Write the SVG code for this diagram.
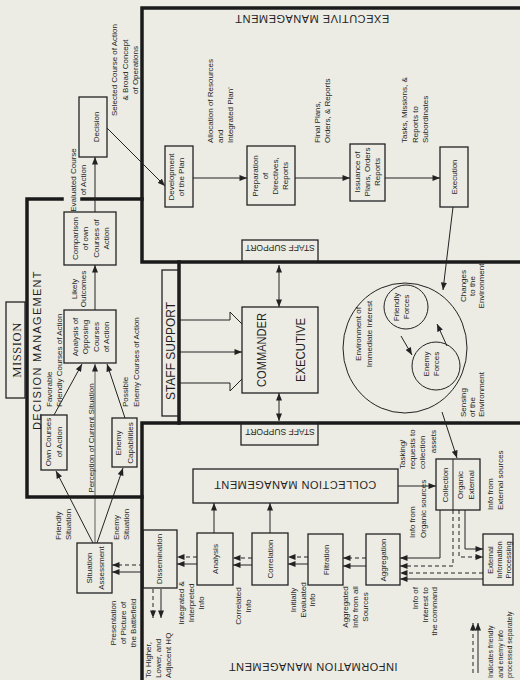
<svg xmlns="http://www.w3.org/2000/svg" width="520" height="680" viewBox="0 0 520 680">
<defs>
<marker id="ah" viewBox="0 0 10 8" refX="10" refY="4" markerWidth="8" markerHeight="6" markerUnits="userSpaceOnUse" orient="auto-start-reverse"><path d="M0,0 L10,4 L0,8 z" fill="#222"/></marker>
</defs>
<style>
text{font-family:"Liberation Sans",Arial,sans-serif;fill:#1f1f1f;font-size:8px}
.serif{font-family:"Liberation Serif","Times New Roman",serif}
.big{font-size:12px}
.head{font-size:11px;letter-spacing:0.5px}
.small{font-size:7px}
.box{fill:none;stroke:#222;stroke-width:1.3}
.wall{fill:none;stroke:#1a1a1a;stroke-width:3.5;stroke-linecap:square}
.ln{fill:none;stroke:#222;stroke-width:1}
.thin{stroke-width:0.7}
.arr{marker-end:url(#ah)}
.dbl{marker-start:url(#ah);marker-end:url(#ah)}
.dash{stroke-dasharray:4 3}
</style>
<rect width="520" height="680" fill="#ecece4"/>

<!-- management regions -->
<g id="executive-management">
<path class="wall" d="M520,8 H142 V262 H520"/>
<text class="head" transform="translate(312,15) rotate(180)" text-anchor="middle">EXECUTIVE MANAGEMENT</text>
</g>
<g id="decision-management">
<path class="wall" d="M62,199 H27 V497 H142"/>
<path class="wall" d="M82,199 H142"/>
<text class="head" transform="translate(41,350) rotate(-90)" text-anchor="middle" style="letter-spacing:1.3px">DECISION MANAGEMENT</text>
</g>
<g id="staff-support-wall">
<path class="wall" d="M179,262 V423"/>
</g>
<g id="information-management">
<path class="wall" d="M142,680 V423 H520"/>
<text class="head" transform="translate(313,663) rotate(180)" text-anchor="middle">INFORMATION MANAGEMENT</text>
</g>

<!-- nodes -->
<g id="mission">
<rect class="box" x="6" y="302" width="19" height="96"/>
<text class="serif" transform="translate(20.5,350) rotate(-90)" text-anchor="middle" style="font-size:12.5px;letter-spacing:0.6px">MISSION</text>
</g>
<g id="own-courses">
<rect class="box" x="41" y="415" width="26" height="55"/>
<text transform="translate(50.5,442) rotate(-90)" text-anchor="middle"><tspan x="0">Own Courses</tspan><tspan x="0" dy="11">of Action</tspan></text>
</g>
<g id="enemy-capabilities">
<rect class="box" x="112" y="418" width="25" height="49"/>
<text transform="translate(121,443) rotate(-90)" text-anchor="middle"><tspan x="0">Enemy</tspan><tspan x="0" dy="11.5">Capabilities</tspan></text>
</g>
<g id="analysis-opposing">
<rect class="box" x="64" y="310" width="52" height="53"/>
<text transform="translate(77.5,337) rotate(-90)" text-anchor="middle"><tspan x="0">Analysis of</tspan><tspan x="0" dy="10.5">Opposing</tspan><tspan x="0" dy="10.5">Courses</tspan><tspan x="0" dy="10.5">of Action</tspan></text>
</g>
<g id="comparison">
<rect class="box" x="64" y="212" width="52" height="53"/>
<text transform="translate(77.5,238.5) rotate(-90)" text-anchor="middle"><tspan x="0">Comparison</tspan><tspan x="0" dy="10.5">of own</tspan><tspan x="0" dy="10.5">Courses of</tspan><tspan x="0" dy="10.5">Action</tspan></text>
</g>
<g id="decision">
<rect class="box" x="79" y="97" width="28" height="60"/>
<text transform="translate(98.5,127) rotate(-90)" text-anchor="middle">Decision</text>
</g>
<g id="development">
<rect class="box" x="165" y="146" width="28" height="61"/>
<text transform="translate(174,177) rotate(-90)" text-anchor="middle"><tspan x="0">Development</tspan><tspan x="0" dy="10">of the Plan</tspan></text>
</g>
<g id="preparation">
<rect class="box" x="247" y="146" width="48" height="59"/>
<text transform="translate(257.5,176) rotate(-90)" text-anchor="middle"><tspan x="0">Preparation</tspan><tspan x="0" dy="10.2">of</tspan><tspan x="0" dy="10.2">Directives,</tspan><tspan x="0" dy="10.2">Reports</tspan></text>
</g>
<g id="issuance">
<rect class="box" x="350" y="144" width="35" height="57"/>
<text transform="translate(359.5,172) rotate(-90)" text-anchor="middle"><tspan x="0">Issuance of</tspan><tspan x="0" dy="10">Plans, Orders</tspan><tspan x="0" dy="10">Reports</tspan></text>
</g>
<g id="execution">
<rect class="box" x="440" y="147" width="28" height="60"/>
<text transform="translate(457,177) rotate(-90)" text-anchor="middle">Execution</text>
</g>
<g id="staff-support-left">
<rect class="box" x="162" y="270" width="17" height="146"/>
<text class="big" transform="translate(175,351) rotate(-90)" text-anchor="middle">STAFF SUPPORT</text>
</g>
<g id="staff-support-upper">
<rect class="box" x="242" y="240" width="76" height="22"/>
<text transform="translate(280,245) rotate(180)" text-anchor="middle" style="font-size:8.5px">STAFF SUPPORT</text>
</g>
<g id="staff-support-lower">
<rect class="box" x="241" y="423" width="77" height="22"/>
<text transform="translate(280,429) rotate(180)" text-anchor="middle" style="font-size:8.5px">STAFF SUPPORT</text>
</g>
<g id="commander">
<rect class="box" x="242" y="307" width="76" height="86"/>
<text transform="translate(266,350) rotate(-90)" text-anchor="middle" style="font-size:13px" textLength="74" lengthAdjust="spacingAndGlyphs">COMMANDER</text>
<text transform="translate(305,350) rotate(-90)" text-anchor="middle" style="font-size:13px" textLength="64" lengthAdjust="spacingAndGlyphs">EXECUTIVE</text>
</g>
<g id="environment">
<ellipse class="ln" cx="405" cy="348" rx="62" ry="65"/>
<text transform="translate(361,334) rotate(-90)" text-anchor="middle"><tspan x="0">Environment of</tspan><tspan x="0" dy="11">Immediate Interest</tspan></text>
</g>
<g id="friendly-forces">
<circle class="ln" cx="406" cy="307" r="22"/>
<text transform="translate(399,307) rotate(-90)" text-anchor="middle"><tspan x="0">Friendly</tspan><tspan x="0" dy="10">Forces</tspan></text>
</g>
<g id="enemy-forces">
<circle class="ln" cx="436" cy="366" r="24"/>
<text transform="translate(429,364) rotate(-90)" text-anchor="middle"><tspan x="0">Enemy</tspan><tspan x="0" dy="10">Forces</tspan></text>
</g>
<g id="collection-management">
<rect class="box" x="193" y="469" width="205" height="34"/>
<text class="head" transform="translate(295,481) rotate(180)" text-anchor="middle">COLLECTION MANAGEMENT</text>
</g>
<g id="collection">
<rect class="box" x="436" y="459" width="44" height="51"/>
<path class="ln" d="M453,459 V510"/>
<text transform="translate(447.5,485) rotate(-90)" text-anchor="middle">Collection</text>
<text transform="translate(463,485) rotate(-90)" text-anchor="middle"><tspan x="0">Organic</tspan><tspan x="0" dy="11">External</tspan></text>
</g>
<g id="external-processing">
<rect class="box" x="483" y="534" width="30" height="51"/>
<text transform="translate(493,560) rotate(-90)" text-anchor="middle" style="font-size:7.5px"><tspan x="0">External</tspan><tspan x="0" dy="9">Information</tspan><tspan x="0" dy="9">Processing</tspan></text>
</g>
<g id="aggregation">
<rect class="box" x="366" y="534" width="34" height="51"/>
<text transform="translate(386,560) rotate(-90)" text-anchor="middle">Aggregation</text>
</g>
<g id="filtration">
<rect class="box" x="308" y="534" width="35" height="51"/>
<text transform="translate(328.5,560) rotate(-90)" text-anchor="middle">Filtration</text>
</g>
<g id="correlation">
<rect class="box" x="252" y="533" width="36" height="52"/>
<text transform="translate(273,559) rotate(-90)" text-anchor="middle">Correlation</text>
</g>
<g id="analysis">
<rect class="box" x="197" y="533" width="36" height="52"/>
<text transform="translate(218,559) rotate(-90)" text-anchor="middle">Analysis</text>
</g>
<g id="dissemination">
<rect class="box" x="143" y="530" width="34" height="58"/>
<text transform="translate(162,559) rotate(-90)" text-anchor="middle">Dissemination</text>
</g>
<g id="situation-assessment">
<rect class="box" x="77" y="543" width="35" height="50"/>
<text transform="translate(92,568) rotate(-90)" text-anchor="middle"><tspan x="0">Situation</tspan><tspan x="0" dy="12">Assessment</tspan></text>
</g>

<!-- connectors -->
<g id="connectors">
<path class="ln arr" d="M107,128 L165,186"/>
<path class="ln arr" d="M193,178 H247"/>
<path class="ln arr" d="M295,178 H350"/>
<path class="ln arr" d="M385,178 H440"/>
<path class="ln arr" d="M453,207 L443,290"/>
<path class="ln arr" d="M442,412 L457,458"/>
<path class="ln arr" d="M401,336 L412,355"/>
<path class="ln arr" d="M447,346 L437,324"/>
<path class="ln arr" d="M95,212 V157"/>
<path class="ln arr" d="M95,310 V265"/>
<path class="ln arr" d="M54,415 L82,364"/>
<path class="ln arr" d="M125,418 L107,364"/>
<path class="ln thin arr" d="M95,543 V364"/>
<path class="ln arr" d="M93,543 L56,471"/>
<path class="ln arr" d="M97,543 L123,468"/>
<path class="ln" d="M179,320 H230 V312 L242,324"/>
<path class="ln" d="M179,383 H230 V391 L242,379"/>
<path class="ln arr" d="M179,352 H242"/>
<path class="ln dbl" d="M279,265 V307"/>
<path class="ln dbl" d="M279,393 V421"/>
<path class="ln arr" d="M398,486 H436"/>
<path class="ln dash arr" d="M197,557 H177"/>
<path class="ln arr" d="M197,564 H177"/>
<path class="ln dash arr" d="M252,558 H233"/>
<path class="ln arr" d="M252,565 H233"/>
<path class="ln dash arr" d="M308,557 H288"/>
<path class="ln arr" d="M308,564 H288"/>
<path class="ln dash arr" d="M366,558 H343"/>
<path class="ln arr" d="M366,566 H343"/>
<path class="ln dash arr" d="M143,565 H112"/>
<path class="ln arr" d="M143,572 H112"/>
<path class="ln dash arr" d="M153,589 V618"/>
<path class="ln arr" d="M161,589 V618"/>
<path class="ln arr" d="M214,533 V503"/>
<path class="ln arr" d="M270,533 V503"/>
<path class="ln arr" d="M440,510 V558 H400"/>
<path class="ln dash arr" d="M453,510 V566 H400"/>
<path class="ln dash arr" d="M459,510 V557 H483"/>
<path class="ln arr" d="M465,510 V549 H483"/>
<path class="ln dash arr" d="M483,573 H400"/>
<path class="ln arr" d="M483,579 H400"/>
</g>

<!-- connector labels -->
<g id="labels">
<text transform="translate(117,70) rotate(-90)" text-anchor="middle"><tspan x="0">Selected Course of Action</tspan><tspan x="0" dy="10.5">&amp; Broad Concept</tspan><tspan x="0" dy="10.5">of Operations</tspan></text>
<text transform="translate(213,143) rotate(-90)"><tspan x="0">Allocation of Resources</tspan><tspan x="0" dy="10">and</tspan><tspan x="0" dy="10">Integrated Plan'</tspan></text>
<text transform="translate(320,143) rotate(-90)"><tspan x="0">Final Plans,</tspan><tspan x="0" dy="10">Orders, &amp; Reports</tspan></text>
<text transform="translate(407,143) rotate(-90)"><tspan x="0">Tasks, Missions, &amp;</tspan><tspan x="0" dy="10.5">Reports to</tspan><tspan x="0" dy="10.5">Subordinates</tspan></text>
<text transform="translate(76,180) rotate(-90)" text-anchor="middle"><tspan x="0">Evaluated Course</tspan><tspan x="0" dy="9.5">of Action</tspan></text>
<text transform="translate(77,289) rotate(-90)" text-anchor="middle"><tspan x="0">Likely</tspan><tspan x="0" dy="9">Outcomes</tspan></text>
<text transform="translate(52,407) rotate(-90)"><tspan x="0">Favorable</tspan><tspan x="0" dy="9.5">Friendly Courses of Action</tspan></text>
<text transform="translate(128,407) rotate(-90)"><tspan x="0">Possible</tspan><tspan x="0" dy="11">Enemy Courses of Action</tspan></text>
<text transform="translate(93.5,438) rotate(-90)" text-anchor="middle">Perception of Current Situation</text>
<text transform="translate(61,540) rotate(-90)"><tspan x="0">Friendly</tspan><tspan x="0" dy="10">Situation</tspan></text>
<text transform="translate(119,540) rotate(-90)"><tspan x="0">Enemy</tspan><tspan x="0" dy="9.5">Situation</tspan></text>
<text transform="translate(116,623) rotate(-90)" text-anchor="middle"><tspan x="0">Presentation</tspan><tspan x="0" dy="10">of Picture of</tspan><tspan x="0" dy="10">the Battlefield</tspan></text>
<text transform="translate(151,678) rotate(-90)"><tspan x="0">To Higher,</tspan><tspan x="0" dy="10">Lower, and</tspan><tspan x="0" dy="10">Adjacent HQ</tspan></text>
<text transform="translate(184,603) rotate(-90)" text-anchor="middle"><tspan x="0">Integrated &amp;</tspan><tspan x="0" dy="10">Interpreted</tspan><tspan x="0" dy="10">Info</tspan></text>
<text transform="translate(241,606) rotate(-90)" text-anchor="middle"><tspan x="0">Correlated</tspan><tspan x="0" dy="10">Info</tspan></text>
<text transform="translate(296,600) rotate(-90)" text-anchor="middle"><tspan x="0">Initially</tspan><tspan x="0" dy="9.5">Evaluated</tspan><tspan x="0" dy="9.5">Info</tspan></text>
<text transform="translate(348,607) rotate(-90)" text-anchor="middle"><tspan x="0">Aggregated</tspan><tspan x="0" dy="10">Info from all</tspan><tspan x="0" dy="10">Sources</tspan></text>
<text transform="translate(415,538) rotate(-90)"><tspan x="0">Info from</tspan><tspan x="0" dy="10.5">Organic sources</tspan></text>
<text transform="translate(493,510) rotate(-90)"><tspan x="0">Info from</tspan><tspan x="0" dy="10">External sources</tspan></text>
<text transform="translate(418,587) rotate(-90)" text-anchor="end"><tspan x="0">Info of</tspan><tspan x="0" dy="9.5">Interest to</tspan><tspan x="0" dy="9.5">the command</tspan></text>
<text transform="translate(405,469) rotate(-90)"><tspan x="0">Tasking/</tspan><tspan x="0" dy="10">requests to</tspan><tspan x="0" dy="10">collection</tspan></text>
<text transform="translate(436,430) rotate(-90)" text-anchor="end">assets</text>
<text transform="translate(466,286) rotate(-90)" text-anchor="middle"><tspan x="0">Changes</tspan><tspan x="0" dy="9">to the</tspan><tspan x="0" dy="9">Environment</tspan></text>
<text transform="translate(466,417) rotate(-90)"><tspan x="0">Sensing</tspan><tspan x="0" dy="9">of the</tspan><tspan x="0" dy="9">Environment</tspan></text>
</g>

<!-- legend -->
<g id="legend">
<path class="ln dash arr" d="M473,673 V623"/>
<path class="ln arr" d="M478,673 V623"/>
<text class="small" transform="translate(493,678) rotate(-90)"><tspan x="0">Indicates friendly</tspan><tspan x="0" dy="9.5">and enemy info</tspan><tspan x="0" dy="9.5">processed separately</tspan></text>
</g>
</svg>
